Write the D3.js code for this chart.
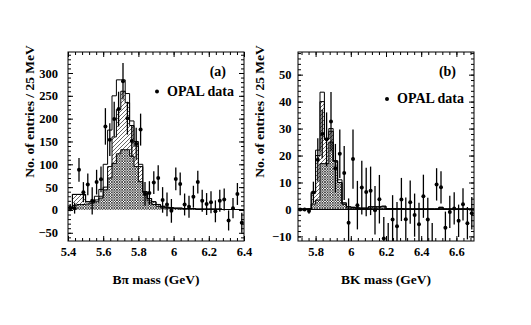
<!DOCTYPE html>
<html>
<head>
<meta charset="utf-8">
<script src="https://cdn.jsdelivr.net/npm/d3@7"></script>
<style>
  body { margin: 0; background: #fff; }
  text { font-family: "Liberation Serif", "Times New Roman", serif; font-weight: bold; fill: #000; }
</style>
</head>
<body>
<svg id="chart" width="531" height="325"></svg>
<script>
// 25 MeV bins
const binWidth = 0.025;

// panel (a): B pi mass, bins from 5.4 GeV
const startA = 5.4;
const dataA = [5, 4, 88, 39, 56, 20, 61, 67, 183, 154, 199, 221, 282, 201, 151, 145, 176, 35, 37, 60,
               70, 22, 12, -2, 68, 57, 12, 7, 29, 61, 20, 13, 17, -3, 20, 23, -23, 4, 35, -28];
const errA = [8, 12, 26, 22, 24, 30, 27, 28, 40, 36, 38, 38, 40, 36, 35, 35, 35, 26, 26, 25,
              28, 28, 26, 26, 25, 25, 24, 24, 24, 25, 24, 24, 24, 24, 24, 24, 22, 22, 24, 22];
const totalA = [5, 34, 34, 34, 18, 18, 30, 45, 100, 175, 250, 285, 285, 255, 195, 150, 100, 40, 25, 18,
                12, 8, 6, 5, 4, 4, 3, 3, 3, 2, 2, 2, 2, 2, 2, 1, 1, 1, 1, 1];
const hatchTopA = [5, 34, 34, 34, 18, 18, 22, 30, 50, 95, 160, 220, 260, 235, 185, 140, 95, 40, 25, 18,
                   12, 8, 6, 5, 4, 4, 3, 3, 3, 2, 2, 2, 2, 2, 2, 1, 1, 1, 1, 1];
const crossA = [2, 10, 12, 12, 13, 15, 18, 26, 44, 70, 102, 123, 132, 132, 118, 95, 62, 37, 20, 12,
                8, 5, 4, 3, 3, 2, 2, 2, 2, 1, 1, 1, 1, 1, 1, 1, 1, 1, 1, 1];
const xTicksA = [5.4, 5.6, 5.8, 6.0, 6.2, 6.4];
const yTicksA = [-50, 0, 50, 100, 150, 200, 250, 300];

// panel (b): BK mass, bins from 5.7 GeV
const startB = 5.7;
const dataB = [0, 0, -0.6, 6.3, 18.4, 28, 26, 32.6, 15.3, 20.7, 13.5, -4.9, 18.7, 1.6, 8.1, 6.5, 6.9, -0.3, 3.8, -10.8,
               -14, -3.7, -6.2, 3.7, -3.6, 2.7, -2.1, -5.5, 4.9, -3.7, -13, 9.3, 8.2, -6.8, -0.9, 0.4, -4.2, 1.9, -5.1, -1.4];
const errB = [0.5, 0.5, 1, 4, 8, 9, 10, 11, 9, 9, 10, 9, 11, 9, 10, 9, 9, 9, 9, 8,
              9, 9, 9, 8, 8, 8, 8, 8, 8, 8, 8, 6, 6, 6, 6, 6, 6, 6, 6, 6];
const totalB = [0.3, 0.3, 0.3, 6.5, 22, 43.5, 26, 30, 18, 11, 2.5, 1, 0.8, 0.6, 0.5, 0.5, 1, 1, 1, 1.2,
                0.3, 0.3, 0.3, 0.3, 0.2, 0.2, 0.2, 0.2, 0.2, 0.2, 0.2, 0.2, 0.8, 0.2, 0.2, 0.2, 0.2, 0.2, 0.2, 0.2];
const hatchTopB = [0.2, 0.2, 0.2, 6, 20, 40, 26, 29, 18, 10, 2, 1, 0.8, 0.6, 0.5, 0.5, 1, 1, 1, 1.2,
                   0.3, 0.3, 0.3, 0.3, 0.2, 0.2, 0.2, 0.2, 0.2, 0.2, 0.2, 0.2, 0.8, 0.2, 0.2, 0.2, 0.2, 0.2, 0.2, 0.2];
const crossB = [0, 0, 0, 2, 3.5, 17, 17, 25, 18, 10, 2, 0.5, 0.5, 0.4, 0.3, 0.3, 0.5, 0.5, 0.5, 0.5,
                0.2, 0.2, 0.2, 0.2, 0.1, 0.1, 0.1, 0.1, 0.1, 0.1, 0.1, 0.1, 0.4, 0.1, 0.1, 0.1, 0.1, 0.1, 0.1, 0.1];
const xTicksB = [5.8, 6.0, 6.2, 6.4, 6.6];
const yTicksB = [-10, 0, 10, 20, 30, 40, 50];

const svg = d3.select('#chart');
svg.append('rect').attr('width', 531).attr('height', 325).attr('fill', '#fff');

// hatch patterns
const defs = svg.append('defs');
const cross = defs.append('pattern').attr('id', 'cross')
    .attr('patternUnits', 'userSpaceOnUse').attr('width', 2.6).attr('height', 2.6);
cross.append('rect').attr('width', 2.6).attr('height', 2.6).attr('fill', '#fff');
cross.append('path').attr('d', 'M0,0L2.6,2.6M2.6,0L0,2.6')
    .attr('stroke', '#000').attr('stroke-width', 0.65);
const diag = defs.append('pattern').attr('id', 'diag')
    .attr('patternUnits', 'userSpaceOnUse').attr('width', 4).attr('height', 4);
diag.append('rect').attr('width', 4).attr('height', 4).attr('fill', '#fff');
diag.append('path').attr('d', 'M0,4L4,0M-1,1L1,-1M3,5L5,3')
    .attr('stroke', '#000').attr('stroke-width', 0.6);

function drawPanel(p) {
    const x = d3.scaleLinear().domain(p.xDomain).range([p.left, p.right]);
    const y = d3.scaleLinear().domain(p.yDomain).range([p.bottom, p.top]);
    const g = svg.append('g');

    defs.append('clipPath').attr('id', 'clip-' + p.id)
        .append('rect')
        .attr('x', p.left).attr('y', p.top)
        .attr('width', p.right - p.left).attr('height', p.bottom - p.top);
    const plot = g.append('g').attr('clip-path', `url(#clip-${p.id})`);

    // step points for histograms
    const steps = (lo, hi) => hi.flatMap((v, i) => [
        {x: p.start + i * binWidth, lo: lo ? lo[i] : 0, hi: v},
        {x: p.start + (i + 1) * binWidth, lo: lo ? lo[i] : 0, hi: v}
    ]);
    const area = d3.area().x(d => x(d.x)).y0(d => y(d.lo)).y1(d => y(d.hi));
    const line = d3.line().x(d => x(d.x)).y(d => y(d.hi));

    plot.append('path').datum(steps(null, p.cross)).attr('d', area).attr('fill', 'url(#cross)');
    plot.append('path').datum(steps(p.cross, p.hatchTop)).attr('d', area).attr('fill', 'url(#diag)');

    [p.cross, p.hatchTop, p.total].forEach(h => {
        plot.append('path').datum(steps(null, h)).attr('d', line)
            .attr('fill', 'none').attr('stroke', '#000').attr('stroke-width', 1);
    });

    if (p.zeroLine) {
        plot.append('line')
            .attr('x1', p.left).attr('x2', p.right)
            .attr('y1', y(0)).attr('y2', y(0))
            .attr('stroke', '#000').attr('stroke-width', 1);
    }

    // data points with error bars
    const pts = p.data.map((v, i) => ({c: p.start + (i + 0.5) * binWidth, v: v, e: p.err[i]}));
    plot.selectAll('.err').data(pts).enter().append('line')
        .attr('class', 'err')
        .attr('x1', d => x(d.c)).attr('x2', d => x(d.c))
        .attr('y1', d => y(d.v - d.e)).attr('y2', d => y(d.v + d.e))
        .attr('stroke', '#000').attr('stroke-width', 1.3);
    plot.selectAll('.pt').data(pts).enter().append('circle')
        .attr('class', 'pt')
        .attr('cx', d => x(d.c)).attr('cy', d => y(d.v)).attr('r', 2)
        .attr('fill', '#000');

    // axes with inward ticks on all four sides
    const xMinor = d3.range(Math.round((p.xDomain[1] - p.xDomain[0]) / 0.04) + 1)
        .map(i => +(p.xMinorStart + i * 0.04).toFixed(3)).filter(v => v <= p.xDomain[1]);
    const yMinor = d3.range(p.yMinorStart, p.yDomain[1], p.yMinorStep);

    const addAxis = (axis, tx, ty) => {
        const a = g.append('g').attr('transform', `translate(${tx},${ty})`).call(axis);
        a.select('.domain').remove();
        return a;
    };
    addAxis(d3.axisBottom(x).tickValues(xMinor).tickSize(-3).tickFormat(''), 0, p.bottom);
    addAxis(d3.axisTop(x).tickValues(xMinor).tickSize(-3).tickFormat(''), 0, p.top);
    addAxis(d3.axisTop(x).tickValues(p.xTicks).tickSize(-5).tickFormat(''), 0, p.top);
    const xa = addAxis(d3.axisBottom(x).tickValues(p.xTicks).tickSize(-5).tickPadding(6.5)
        .tickFormat(d3.format('~g')), 0, p.bottom);

    addAxis(d3.axisLeft(y).tickValues(yMinor).tickSize(-3).tickFormat(''), p.left, 0);
    addAxis(d3.axisRight(y).tickValues(yMinor).tickSize(-3).tickFormat(''), p.right, 0);
    addAxis(d3.axisRight(y).tickValues(p.yTicks).tickSize(-5).tickFormat(''), p.right, 0);
    const ya = addAxis(d3.axisLeft(y).tickValues(p.yTicks).tickSize(-5).tickPadding(p.yPad)
        .tickFormat(d3.format('~g')), p.left, 0);

    [xa, ya].forEach(a => a.selectAll('text')
        .style('font-size', '12.5px')
        .style('font-family', '"Liberation Serif", serif')
        .style('font-weight', 'bold'));

    // frame
    g.append('rect')
        .attr('x', p.left).attr('y', p.top)
        .attr('width', p.right - p.left).attr('height', p.bottom - p.top)
        .attr('fill', 'none').attr('stroke', '#000').attr('stroke-width', 1);

    // titles
    g.append('text')
        .attr('x', (p.left + p.right) / 2).attr('y', 284)
        .attr('text-anchor', 'middle').style('font-size', '13.5px')
        .text(p.xTitle);
    g.append('text')
        .attr('transform', `translate(${p.left - p.yTitleOffset},111.5) rotate(-90)`)
        .attr('text-anchor', 'middle').style('font-size', '13.5px')
        .text('No. of entries / 25 MeV');

    // panel tag and legend
    g.append('text')
        .attr('x', p.right - 18).attr('y', 75.5)
        .attr('text-anchor', 'end').style('font-size', '14px')
        .text(p.tag);
    g.append('circle')
        .attr('cx', p.legendX).attr('cy', p.legendY - 4).attr('r', 2).attr('fill', '#000');
    g.append('text')
        .attr('x', p.legendX + 10).attr('y', p.legendY)
        .style('font-size', '14px')
        .text('OPAL data');
}

drawPanel({
    id: 'a', start: startA, data: dataA, err: errA,
    total: totalA, hatchTop: hatchTopA, cross: crossA,
    xDomain: [5.4, 6.4], yDomain: [-68, 346],
    left: 68, right: 244, top: 52, bottom: 241,
    xTicks: xTicksA, yTicks: yTicksA,
    xMinorStart: 5.4, yMinorStart: -60, yMinorStep: 10, yPad: 10,
    xTitle: 'B\u03c0 mass (GeV)', yTitleOffset: 34,
    tag: '(a)', legendX: 157, legendY: 95.5, zeroLine: false
});

drawPanel({
    id: 'b', start: startB, data: dataB, err: errB,
    total: totalB, hatchTop: hatchTopB, cross: crossB,
    xDomain: [5.7, 6.7], yDomain: [-11.7, 58.4],
    left: 298, right: 474, top: 52, bottom: 241,
    xTicks: xTicksB, yTicks: yTicksB,
    xMinorStart: 5.72, yMinorStart: -10, yMinorStep: 2, yPad: 6.5,
    xTitle: 'BK mass (GeV)', yTitleOffset: 34,
    tag: '(b)', legendX: 387, legendY: 103, zeroLine: true
});
</script>
</body>
</html>
